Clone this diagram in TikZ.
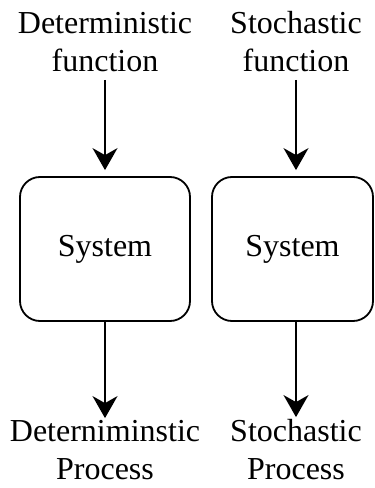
\documentclass[tikz,border=0pt]{standalone}
\usepackage{fontspec}
\setmainfont{Liberation Serif}
\usetikzlibrary{arrows.meta}

\begin{document}
\begin{tikzpicture}[x=1pt,y=1pt,
    lbl/.style={align=center,inner sep=0pt,font=\fontsize{32}{38}\selectfont},
    sysbox/.style={draw,line width=1.8pt,rounded corners=20pt,minimum height=144pt,font=\fontsize{32}{38}\selectfont},
    flow/.style={line width=1.8pt,-{Stealth[length=22pt,width=25pt,inset=7pt]}}]
    \useasboundingbox (0,0) rectangle (375,488);
    % Deterministic side
    \node[lbl,anchor=south] (dfun) at (105,416) {Deterministic\\function};
    \node[sysbox,minimum width=170pt] (dsys) at (105,239) {System};
    \node[lbl,anchor=south] (dproc) at (105,8) {Deterniminstic\\Process};
    \draw[flow,shorten <=8pt,shorten >=6pt] (dfun.south) -- (dsys.north);
    \draw[flow,shorten >=2pt] (dsys.south) -- (dproc.north);
    % Stochastic side
    \node[lbl,anchor=south] (sfun) at (296,416) {Stochastic\\function};
    \node[sysbox,minimum width=161pt] (ssys) at (292.5,239) {System};
    \node[lbl,anchor=south] (sproc) at (296,8) {Stochastic\\Process};
    \draw[flow,shorten <=8pt,shorten >=6pt] (sfun.south) -- (sfun.south |- ssys.north);
    \draw[flow,shorten >=2pt] (ssys.south -| sproc.north) -- (sproc.north);
\end{tikzpicture}
\end{document}
